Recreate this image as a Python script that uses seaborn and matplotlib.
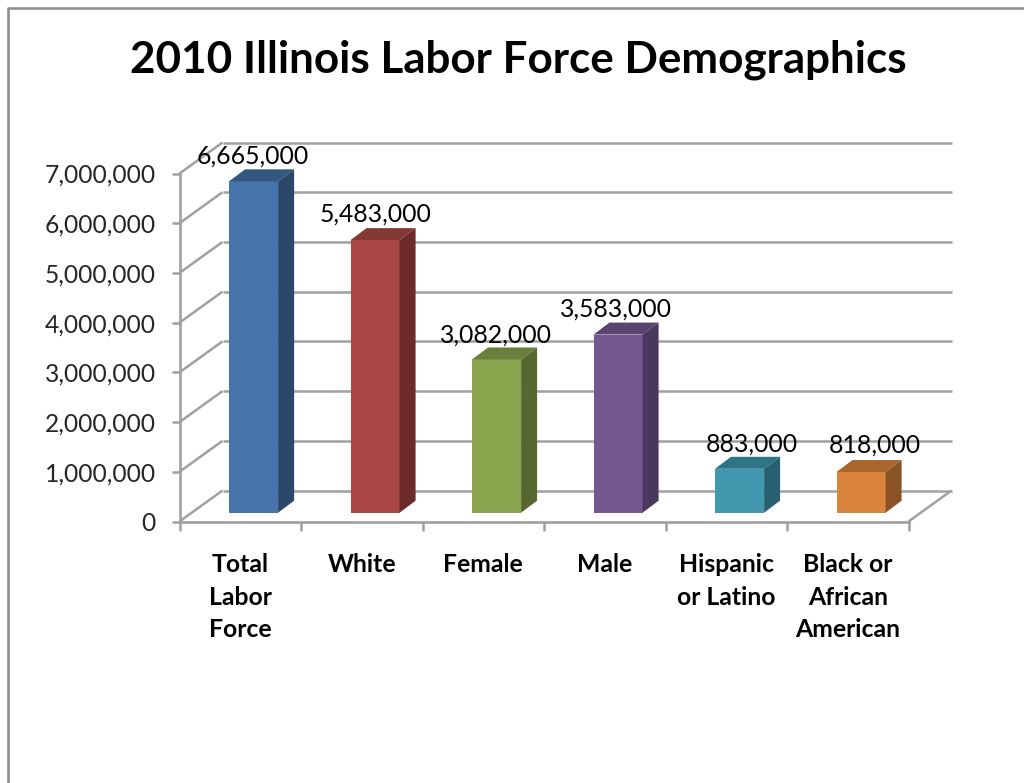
import matplotlib
matplotlib.use("Agg")
import matplotlib.pyplot as plt
import seaborn as sns
import pandas as pd
from matplotlib.lines import Line2D
from matplotlib.patches import Polygon
from matplotlib.ticker import FuncFormatter

# values
categories = ["Total\nLabor\nForce", "White", "Female", "Male", "Hispanic\nor Latino", "Black or\nAfrican\nAmerican"]
workers = [6665000, 5483000, 3082000, 3583000, 883000, 818000]
front_colors = ["#4674AA", "#AA4744", "#89A64E", "#72588F", "#4198AF", "#DB843D"]
top_colors = ["#32587F", "#833936", "#6A7F3B", "#574570", "#2F7387", "#A8652E"]
side_colors = ["#2B476A", "#6C2B29", "#566830", "#49385B", "#28606F", "#8A5326"]
label_dx = [-1, 0, -1, -2, 12, 14]
label_up = [25, 26, 24, 25, 25, 27]

GREY = "#A0A0A0"
W, H = 1024, 783

sns.set_style("white")
plt.rcParams["font.family"] = ["Lato", "DejaVu Sans"]

fig = plt.figure(figsize=(W / 100, H / 100), dpi=100)
# front plane of the fake 3d box, in pixels
left, right, y0, y7 = 179.5, 908.5, 521.5, 173.5
ax = fig.add_axes([left / W, 1 - y0 / H, (right - left) / W, (y0 - y7) / H])
ax.patch.set_alpha(0)

df = pd.DataFrame({"category": categories, "workers": workers})
sns.barplot(data=df, x="category", y="workers", hue="category", palette=front_colors,
            saturation=1, width=0.404, legend=False, ax=ax, zorder=3)
ax.set_xlim(-0.5, 5.5)
ax.set_ylim(0, 7000000)

px_x = 6 / (right - left)
px_y = 7000000 / (y0 - y7)
wall_dx, wall_dy = 43 * px_x, 31 * px_y
bar_dx, bar_dy = 16 * px_x, 12 * px_y
shift_x, shift_y = 13.3 * px_x, 8.8 * px_y


# walls and gridlines
def box_line(xs, ys, z=1):
    ax.add_line(Line2D(xs, ys, color=GREY, lw=1.8, clip_on=False, zorder=z, solid_capstyle="butt"))


yticks = list(range(0, 7000001, 1000000))
for v in yticks:
    box_line([-0.5, -0.5 + wall_dx], [v, v + wall_dy])
    box_line([-0.5 + wall_dx, 5.5 + wall_dx], [v + wall_dy, v + wall_dy])
box_line([5.5, 5.5 + wall_dx], [0, wall_dy])

# bars: move the front faces into the box and add top and side faces
bars = list(ax.patches)
for i, bar in enumerate(bars):
    x0 = bar.get_x() + shift_x
    x1 = x0 + bar.get_width()
    b = shift_y
    t = bar.get_height() + shift_y
    bar.set_xy((x0, b))
    bar.set_clip_on(False)
    bar.set_edgecolor("none")
    ax.add_patch(Polygon([(x0, t), (x1, t), (x1 + bar_dx, t + bar_dy), (x0 + bar_dx, t + bar_dy)],
                         facecolor=top_colors[i], edgecolor="none", clip_on=False, zorder=3))
    ax.add_patch(Polygon([(x1, b), (x1 + bar_dx, b + bar_dy), (x1 + bar_dx, t + bar_dy), (x1, t)],
                         facecolor=side_colors[i], edgecolor="none", clip_on=False, zorder=3))
    ax.annotate(f"{workers[i]:,}", ((x0 + x1) / 2, t), xytext=(label_dx[i] * 0.72, label_up[i] * 0.72),
                textcoords="offset points", ha="center", va="center", fontsize=17.8,
                color="#000000", zorder=5, annotation_clip=False)

# axes
sns.despine(ax=ax, top=True, right=True)
for side in ["left", "bottom"]:
    ax.spines[side].set_color(GREY)
    ax.spines[side].set_linewidth(1.9)
ax.set_xlabel("")
ax.set_ylabel("")
ax.set_yticks(yticks)
ax.yaxis.set_major_formatter(FuncFormatter(lambda v, _: f"{int(v):,}"))
ax.tick_params(axis="y", length=6, width=1.8, color=GREY, pad=11, labelsize=17.7, left=True)
ax.set_xticks(range(6))
ax.set_xticklabels(categories, fontsize=17.8, fontweight="bold", linespacing=1.5)
ax.tick_params(axis="x", which="major", length=0, pad=23, labelcolor="#000000")
ax.set_xticks([i - 0.5 for i in range(7)], minor=True)
ax.tick_params(axis="x", which="minor", length=6.5, width=1.8, color=GREY, bottom=True)

# title and the chart area border, cropped on the right and bottom
fig.text(518 / W, 1 - 60 / H, "2010 Illinois Labor Force Demographics", ha="center", va="center",
         fontsize=31.7, fontweight="bold", color="#000000")
fig.add_artist(Line2D([8 / W, 8 / W, 1], [0, 1 - 7.5 / H, 1 - 7.5 / H], color="#8E8E8E", lw=1.9))

fig.savefig("out.png", dpi=100, facecolor="white")
